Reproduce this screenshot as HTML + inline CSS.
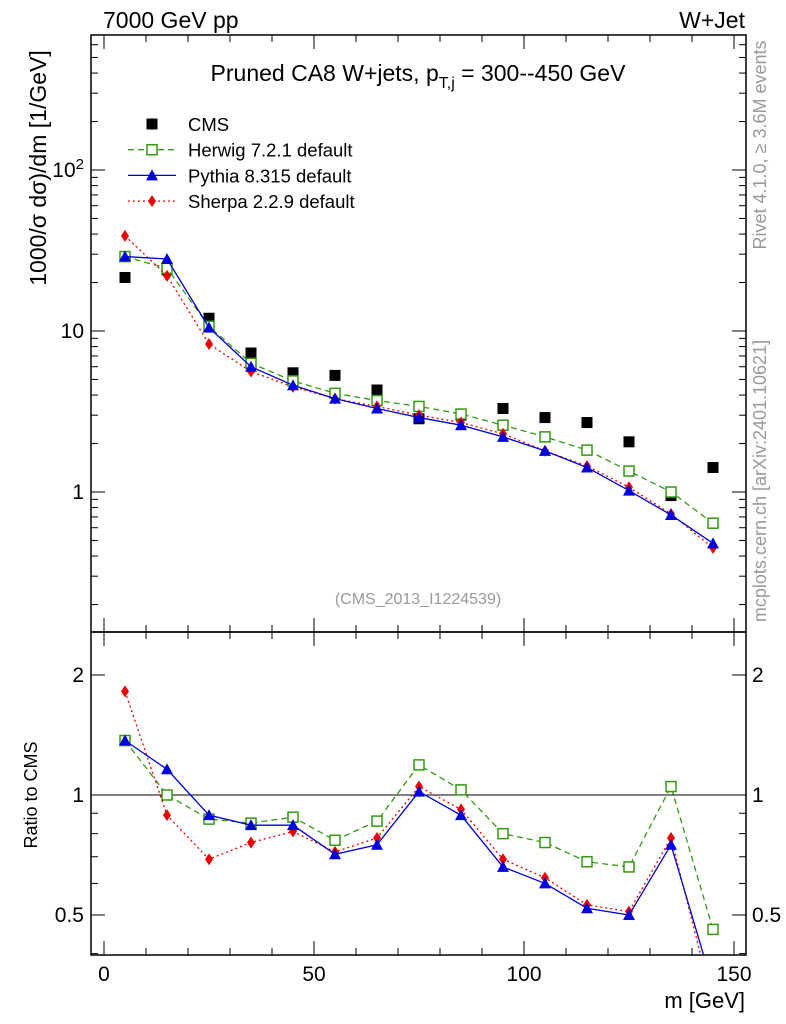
<!DOCTYPE html>
<html><head><meta charset="utf-8"><style>
html,body{margin:0;padding:0;background:#fff;}
svg{display:block;font-family:"Liberation Sans",sans-serif;}
</style></head><body>
<svg id="c" width="786" height="1024" viewBox="0 0 786 1024">
<defs>
<clipPath id="cm"><rect x="91" y="35" width="655" height="597"/></clipPath>
<clipPath id="cr"><rect x="91" y="632" width="655" height="323"/></clipPath>
</defs>
<g id="axes"></g>
<g id="marks"></g>
<text x="103" y="28" font-size="23">7000 GeV pp</text>
<text x="745" y="28" font-size="23" text-anchor="end">W+Jet</text>
<text x="418" y="81" font-size="23" text-anchor="middle">Pruned CA8 W+jets, p<tspan font-size="16" dy="7">T,j</tspan><tspan dy="-7"> = 300--450 GeV</tspan></text>
<text x="418" y="604" font-size="16" fill="#999" text-anchor="middle">(CMS_2013_I1224539)</text>
<text transform="translate(46,168) rotate(-90)" font-size="23" text-anchor="middle">1000/σ  dσ)/dm [1/GeV]</text>
<text transform="translate(37,795) rotate(-90)" font-size="18" text-anchor="middle">Ratio to CMS</text>
<text x="745" y="1008" font-size="22" text-anchor="end">m [GeV]</text>
<text transform="translate(766,145) rotate(-90)" font-size="18" fill="#999" text-anchor="middle">Rivet 4.1.0, ≥ 3.6M events</text>
<text transform="translate(766,481) rotate(-90)" font-size="18" fill="#999" text-anchor="middle">mcplots.cern.ch [arXiv:2401.10621]</text>
<g id="legend"></g>
</svg>
<script>
const bins=[5,15,25,35,45,55,65,75,85,95,105,115,125,135,145];
const cms=[21.5,24,12,7.3,5.5,5.3,4.3,2.85,3.0,3.3,2.9,2.7,2.05,0.95,1.42];
const herwig=[29,24.5,10.7,6.3,4.9,4.1,3.7,3.4,3.05,2.6,2.2,1.82,1.35,1.0,0.64];
const pythia=[29,28,10.5,6.0,4.6,3.8,3.3,2.9,2.6,2.2,1.8,1.42,1.02,0.72,0.48];
const sherpa=[39,22,8.3,5.6,4.5,3.8,3.4,3.0,2.7,2.3,1.8,1.45,1.07,0.73,0.45];
const herwigRatio=[1.37,1.0,0.87,0.85,0.88,0.77,0.86,1.19,1.03,0.80,0.76,0.68,0.66,1.05,0.46];
const pythiaRatio=[1.37,1.16,0.89,0.84,0.84,0.71,0.75,1.02,0.89,0.66,0.60,0.52,0.50,0.75,0.33];
const sherpaRatio=[1.82,0.89,0.69,0.76,0.81,0.72,0.78,1.05,0.92,0.69,0.62,0.53,0.51,0.78,0.30];
const xTicks=[0,50,100,150];
const yTickLabels=["1","10","10²"];
const ratioTicks=[0.5,1,2];
const NS="http://www.w3.org/2000/svg";
const L=91,R=746,T=35,MB=632,RB=955;
const X=v=>104+v*4.2;
const Y=v=>492-161*Math.log10(v);
const YR=v=>795-120*Math.log2(v);
function el(tag,attrs,parent){const e=document.createElementNS(NS,tag);for(const k in attrs)e.setAttribute(k,attrs[k]);(parent||document.getElementById('marks')).appendChild(e);return e;}
const ax=document.getElementById('axes');
let f=el('rect',{x:L,y:T,width:R-L,height:MB-T,fill:'none',stroke:'#000','stroke-width':1.5},ax);

f=el('rect',{x:L,y:MB,width:R-L,height:RB-MB,fill:'none',stroke:'#000','stroke-width':1.5},ax);

for(let v=0;v<=150;v+=10){const maj=v%50===0;const len=maj?14:7;
 [[T,1],[MB,-1],[MB,1],[RB,-1]].forEach(([y0,d])=>{el('line',{x1:X(v),x2:X(v),y1:y0,y2:y0+d*len,stroke:'#000'},ax);});}
xTicks.forEach(v=>{const t=el('text',{x:X(v),y:981,'font-size':21,'text-anchor':'middle'},ax);t.textContent=v;
 });
for(let d=-1;d<=2;d++)for(let m=1;m<=9;m++){const v=m*Math.pow(10,d);const y=Y(v);if(y<T||y>MB)continue;const len=m===1?14:7;
 el('line',{x1:L,x2:L+len,y1:y,y2:y,stroke:'#000'},ax);el('line',{x1:R,x2:R-len,y1:y,y2:y,stroke:'#000'},ax);}
yTickLabels.forEach((s,i)=>{const t=el('text',{x:84,y:Y(Math.pow(10,i))+7,'font-size':21,'text-anchor':'end'},ax);
 if(i===2){t.innerHTML='10<tspan dy="-8" font-size="15">2</tspan>';}else t.textContent=s;
 });
[0.4,0.5,0.6,0.7,0.8,0.9,1,2].forEach(v=>{const y=YR(v);const len=(v===0.5||v===1||v===2)?14:7;
 el('line',{x1:L,x2:L+len,y1:y,y2:y,stroke:'#000'},ax);el('line',{x1:R,x2:R-len,y1:y,y2:y,stroke:'#000'},ax);});
ratioTicks.forEach(v=>{let t=el('text',{x:84,y:YR(v)+7,'font-size':21,'text-anchor':'end'},ax);t.textContent=v;
 
 t=el('text',{x:752,y:YR(v)+7,'font-size':21},ax);t.textContent=v;
 });
el('line',{x1:L,x2:R,y1:YR(1),y2:YR(1),stroke:'#000'},ax);
function marker(type,cx,cy,g){let e;
 if(type==='cms')e=el('rect',{x:cx-5.5,y:cy-5.5,width:11,height:11,fill:'#000'},g);
 else if(type==='herwig')e=el('rect',{x:cx-5,y:cy-5,width:10,height:10,fill:'#fff',stroke:'#339911','stroke-width':1.5},g);
 else if(type==='pythia')e=el('polygon',{points:`${cx},${cy-6} ${cx+6},${cy+5} ${cx-6},${cy+5}`,fill:'#0000dd'},g);
 else e=el('polygon',{points:`${cx},${cy-6} ${cx+4},${cy} ${cx},${cy+6} ${cx-4},${cy}`,fill:'#ee0000'},g);
 return e;}
const styles={herwig:{c:'#339911',dash:'6,4'},pythia:{c:'#0000dd',dash:''},sherpa:{c:'#ee0000',dash:'2,3'}};
function series(name,vals,yf,clip,drawLine){const g=el('g',{'clip-path':`url(#${clip})`});
 
 if(drawLine){const s=styles[name];const pl=el('polyline',{points:vals.map((v,i)=>X(bins[i])+','+yf(v)).join(' '),fill:'none',stroke:s.c,'stroke-width':1.3,'stroke-dasharray':s.dash},g);
  }
 vals.forEach((v,i)=>{const m=marker(name,X(bins[i]),yf(v),g);});}
series('cms',cms,Y,'cm',false);
series('herwig',herwig,Y,'cm',true);
series('sherpa',sherpa,Y,'cm',true);
series('pythia',pythia,Y,'cm',true);
series('herwig',herwigRatio,YR,'cr',true);
series('sherpa',sherpaRatio,YR,'cr',true);
series('pythia',pythiaRatio,YR,'cr',true);
const lg=document.getElementById('legend');
const legendNames=['CMS','Herwig 7.2.1 default','Pythia 8.315 default','Sherpa 2.2.9 default'];
const legendKeys=['cms','herwig','pythia','sherpa'];
legendKeys.forEach((k,i)=>{const y=124+i*25.7;const g=el('g',{},lg);
 
 if(k!=='cms'){const s=styles[k];el('line',{x1:128,x2:176,y1:y,y2:y,stroke:s.c,'stroke-width':1.3,'stroke-dasharray':s.dash},g);}
 marker(k,152,y,g);
 const t=el('text',{x:188,y:y+7,'font-size':18.5},g);t.textContent=legendNames[i];});
</script>
</body></html>
